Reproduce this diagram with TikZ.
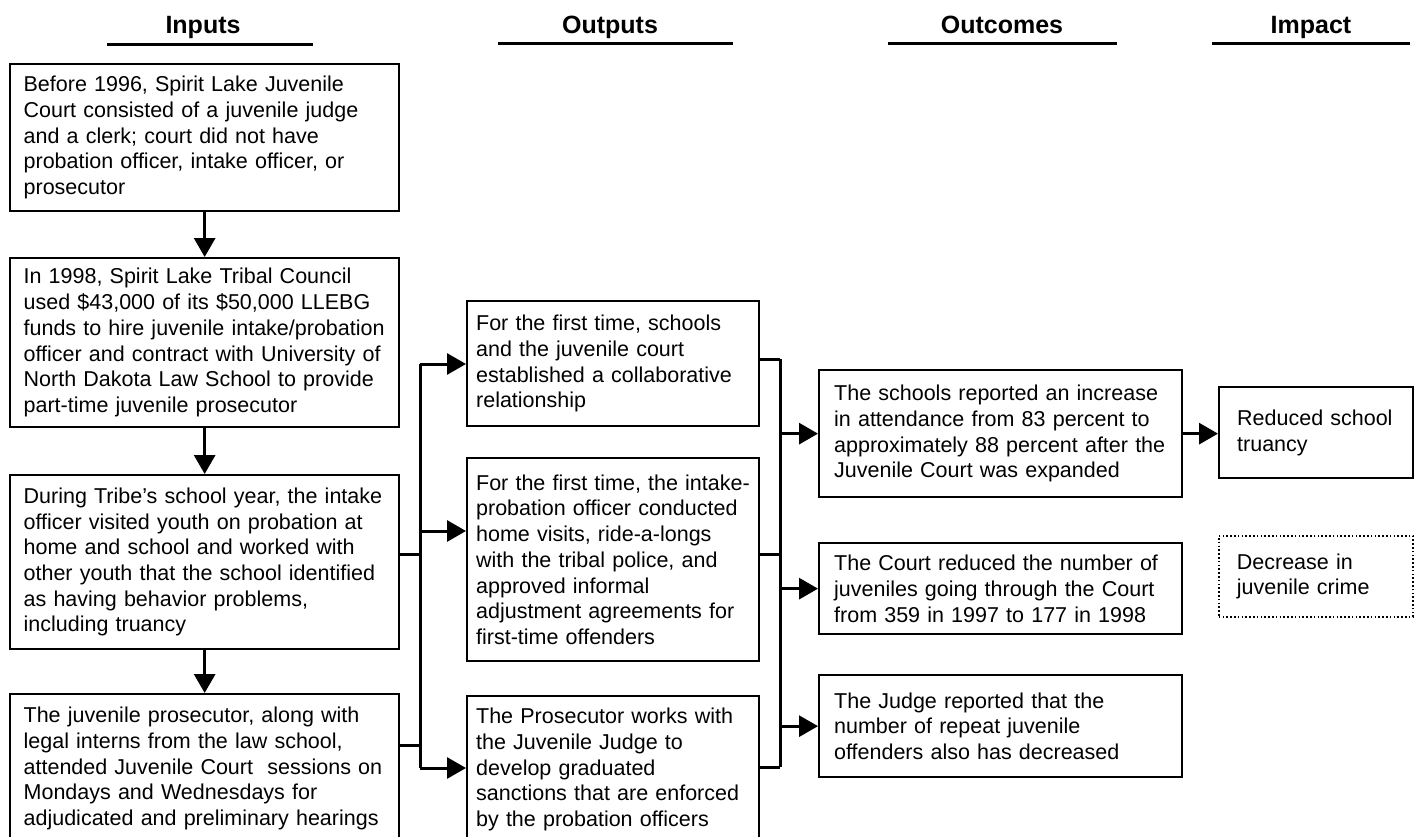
\documentclass[tikz,border=0pt]{standalone}
\usepackage{fontspec}
\setmainfont{Liberation Sans}
\usetikzlibrary{arrows.meta}

\begin{document}
\begin{tikzpicture}[
  x=1pt,y=-1pt,
  font=\fontsize{21.5}{25.7}\selectfont,
  cell/.style={draw,line width=2.3pt,anchor=north west,align=left,inner ysep=0pt},
  incell/.style={cell,inner xsep=13.5pt,text width=362pt},
  outcell/.style={cell,inner xsep=9pt,text width=274pt},
  occell/.style={cell,inner xsep=15pt,text width=333pt},
  impcell/.style={cell,inner xsep=18pt,text width=158pt},
  hope/.style={impcell,dash pattern=on 1.6pt off 2.2pt,line width=1.7pt},
  head/.style={anchor=base,font=\fontsize{25}{29}\selectfont\bfseries},
  rule/.style={line width=3pt},
  wire/.style={line width=3pt},
  flow/.style={wire,-{Triangle[length=19pt,width=21pt]}}
]
\path[use as bounding box,fill=white] (0,0) rectangle (1418,837);

% column headings
\node[head] (hin) at (203,34) {Inputs};
\node[head] (hout) at (610,34) {Outputs};
\node[head] (hoc) at (1002,34) {Outcomes};
\node[head] (him) at (1311,34) {Impact};
\draw[rule] (107,45) -- (313,45);
\draw[rule] (498,44) -- (733,44);
\draw[rule] (888,44) -- (1117,44);
\draw[rule] (1212,44) -- (1410,44);

% inputs
\node[incell,minimum height=147pt] (in1) at (9,63)
  {Before 1996, Spirit Lake Juvenile\\Court consisted of a juvenile judge\\and a clerk; court did not have\\probation officer, intake officer, or\\prosecutor};
\node[incell,minimum height=169pt] (in2) at (9,257)
  {In 1998, Spirit Lake Tribal Council\\used \$43,000 of its \$50,000 LLEBG\\funds to hire juvenile intake/probation\\officer and contract with University of\\North Dakota Law School to provide\\part-time juvenile prosecutor};
\node[incell,minimum height=174pt] (in3) at (9,474)
  {During Tribe’s school year, the intake\\officer visited youth on probation at\\home and school and worked with\\other youth that the school identified\\as having behavior problems,\\including truancy};
\node[incell,minimum height=149pt] (in4) at (9,693)
  {The juvenile prosecutor, along with\\legal interns from the law school,\\attended Juvenile Court\ \ sessions on\\Mondays and Wednesdays for\\adjudicated and preliminary hearings};
\draw[flow] (in1) -- (in2);
\draw[flow] (in2) -- (in3);
\draw[flow] (in3) -- (in4);

% outputs
\node[outcell,minimum height=125pt] (out1) at (466,300)
  {For the first time, schools\\and the juvenile court\\established a collaborative\\relationship};
\node[outcell,minimum height=203pt] (out2) at (466,457)
  {For the first time, the intake-\\probation officer conducted\\home visits, ride-a-longs\\with the tribal police, and\\approved informal\\adjustment agreements for\\first-time offenders};
\node[outcell,minimum height=147pt] (out3) at (466,695)
  {The Prosecutor works with\\the Juvenile Judge to\\develop graduated\\sanctions that are enforced\\by the probation officers};

\coordinate (j3) at (420,554);
\coordinate (j4) at (420,745);
\coordinate (b1) at (420,364);
\coordinate (b2) at (420,531);
\coordinate (b3) at (420,768);
\draw[wire] (in3.east |- j3) -- (j3);
\draw[wire] (in4.east |- j4) -- (j4);
\draw[wire] (b1) -- (b3);
\draw[flow] (b1) -- (out1.west |- b1);
\draw[flow] (b2) -- (out2.west |- b2);
\draw[flow] (b3) -- (out3.west |- b3);

% outcomes
\node[occell,minimum height=127pt] (oc1) at (818,369)
  {The schools reported an increase\\in attendance from 83 percent to\\approximately 88 percent after the\\Juvenile Court was expanded};
\node[occell,minimum height=91pt] (oc2) at (818,542)
  {The Court reduced the number of\\juveniles going through the Court\\from 359 in 1997 to 177 in 1998};
\node[occell,minimum height=102pt] (oc3) at (818,674)
  {The Judge reported that the\\number of repeat juvenile\\offenders also has decreased};

\coordinate (r1) at (780,359);
\coordinate (r2) at (780,554);
\coordinate (r3) at (780,767);
\draw[wire] (out1.east |- r1) -- (r1);
\draw[wire] (out2.east |- r2) -- (r2);
\draw[wire] (out3.east |- r3) -- (r3);
\draw[wire] (r1) -- (r3);
\draw[flow] (oc1.west -| r1) -- (oc1.west);
\draw[flow] (oc2.west -| r1) -- (oc2.west);
\draw[flow] (oc3.west -| r1) -- (oc3.west);

% impact
\node[impcell,minimum height=91pt] (imp1) at (1218,386) {Reduced school\\truancy};
\node[hope,minimum height=81pt] (imp2) at (1218,535) {Decrease in\\juvenile crime};
\draw[flow] (oc1.east) -- (oc1.east -| imp1.west);
\end{tikzpicture}
\end{document}
